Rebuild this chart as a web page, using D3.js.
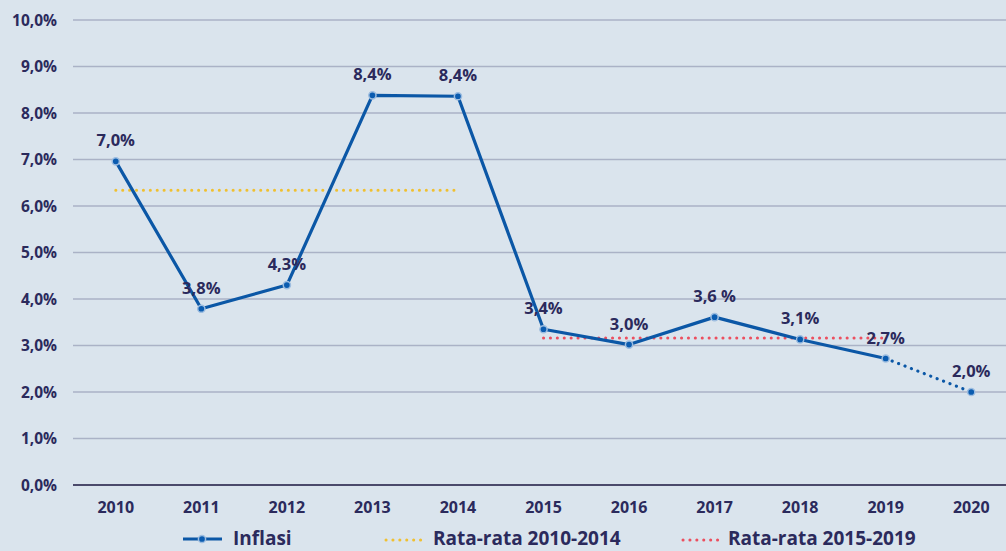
<!DOCTYPE html>
<html><head><meta charset="utf-8">
<script src="https://cdn.jsdelivr.net/npm/d3@7"></script>
<style>
html,body{margin:0;padding:0;background:#dae4ed;overflow:hidden;}
text{font-family:"Open Sans",sans-serif;font-weight:700;fill:#2b2a5c;}
</style></head>
<body>
<svg id="c" width="1006" height="551"></svg>
<script>
const years = ["2010","2011","2012","2013","2014","2015","2016","2017","2018","2019","2020"];
const inflasi = [6.96,3.79,4.30,8.38,8.36,3.35,3.02,3.61,3.13,2.72,2.0];
const labels = ["7,0%","3,8%","4,3%","8,4%","8,4%","3,4%","3,0%","3,6 %","3,1%","2,7%","2,0%"];
const avg1Years = ["2010","2014"];
const avg1 = 6.34;
const avg2Years = ["2015","2019"];
const avg2 = 3.16;
const yTicks = [0,1,2,3,4,5,6,7,8,9,10];
const legendNames = ["Inflasi","Rata-rata 2010-2014","Rata-rata 2015-2019"];

const svg = d3.select("#c");
const W = 1006, H = 551;
svg.append("rect").attr("width",W).attr("height",H).attr("fill","#dae4ed");

const x = d3.scaleBand().domain(years).range([73,1014]).padding(0);
const xc = d => x(d) + x.bandwidth()/2;
const y = d3.scaleLinear().domain([0,10]).range([485,20]);

const yAxis = d3.axisLeft(y).tickValues(yTicks).tickSize(0)
  .tickFormat(d => d3.format(".1f")(d).replace(".",",") + "%");
const gy = svg.append("g").attr("transform","translate(57,0)").call(yAxis);
gy.select(".domain").remove();
gy.selectAll("text").attr("x",0).attr("font-size",15.5).attr("text-anchor","end").attr("dy","0.35em")
  .style("font-family","'Open Sans',sans-serif").style("font-weight",700).style("fill","#2b2a5c");

svg.append("g").selectAll("line").data(yTicks.filter(d=>d>0)).join("line")
  .attr("x1",73).attr("x2",W).attr("y1",d=>y(d)).attr("y2",d=>y(d))
  .attr("stroke","#aab2c6").attr("stroke-width",1.5);
svg.append("line").attr("x1",73).attr("x2",W).attr("y1",y(0)).attr("y2",y(0))
  .attr("stroke","#4b4a6b").attr("stroke-width",2);

const xAxis = d3.axisBottom(x).tickSize(0);
const gx = svg.append("g").attr("transform",`translate(0,${y(0)})`).call(xAxis);
gx.select(".domain").remove();
gx.selectAll("text").attr("y",17).attr("dy","0.71em").attr("font-size",16)
  .style("font-family","'Open Sans',sans-serif").style("font-weight",700).style("fill","#2b2a5c");

function dotted(ys, v, color){
  svg.append("line").attr("x1",xc(ys[0])).attr("x2",xc(ys[1]))
    .attr("y1",y(v)).attr("y2",y(v))
    .attr("stroke",color).attr("stroke-width",3).attr("stroke-linecap","round")
    .attr("stroke-dasharray","0.1 6.8");
}
dotted(avg1Years, avg1, "#f0c030");
dotted(avg2Years, avg2, "#ec4f5f");

const pts = years.map((d,i)=>({year:d,v:inflasi[i],l:labels[i]}));
const line = d3.line().x(d=>xc(d.year)).y(d=>y(d.v));
svg.append("path").datum(pts.slice(0,10)).attr("d",line)
  .attr("fill","none").attr("stroke","#0b57a6").attr("stroke-width",3.2).attr("stroke-linejoin","round");
svg.append("path").datum(pts.slice(9)).attr("d",line)
  .attr("fill","none").attr("stroke","#0b57a6").attr("stroke-width",3.2)
  .attr("stroke-linecap","round").attr("stroke-dasharray","0.1 6.8");

svg.append("g").selectAll("circle").data(pts).join("circle")
  .attr("cx",d=>xc(d.year)).attr("cy",d=>y(d.v)).attr("r",3.6)
  .attr("fill","#0b5cb0").attr("stroke","#9dbde0").attr("stroke-width",1.5);

svg.append("g").selectAll("text").data(pts).join("text")
  .attr("x",d=>xc(d.year)).attr("y",d=>y(d.v)-15)
  .attr("text-anchor","middle").attr("font-size",16.5).text(d=>d.l);

const lg = svg.append("g");
const ly = 545;
lg.append("line").attr("x1",183).attr("x2",222).attr("y1",ly-6).attr("y2",ly-6)
  .attr("stroke","#0b57a6").attr("stroke-width",3.2);
lg.append("circle").attr("cx",202).attr("cy",ly-6).attr("r",3.6)
  .attr("fill","#0b5cb0").attr("stroke","#9dbde0").attr("stroke-width",1.5);
lg.append("text").attr("x",233).attr("y",ly).attr("font-size",19).text(legendNames[0]);

lg.append("line").attr("x1",386).attr("x2",422).attr("y1",ly-5).attr("y2",ly-5)
  .attr("stroke","#f0c030").attr("stroke-width",3).attr("stroke-linecap","round").attr("stroke-dasharray","0.1 6.8");
lg.append("text").attr("x",433).attr("y",ly).attr("font-size",19).text(legendNames[1]);

lg.append("line").attr("x1",683).attr("x2",719).attr("y1",ly-5).attr("y2",ly-5)
  .attr("stroke","#ec4f5f").attr("stroke-width",3).attr("stroke-linecap","round").attr("stroke-dasharray","0.1 6.8");
lg.append("text").attr("x",728).attr("y",ly).attr("font-size",19).text(legendNames[2]);
</script>
</body></html>
